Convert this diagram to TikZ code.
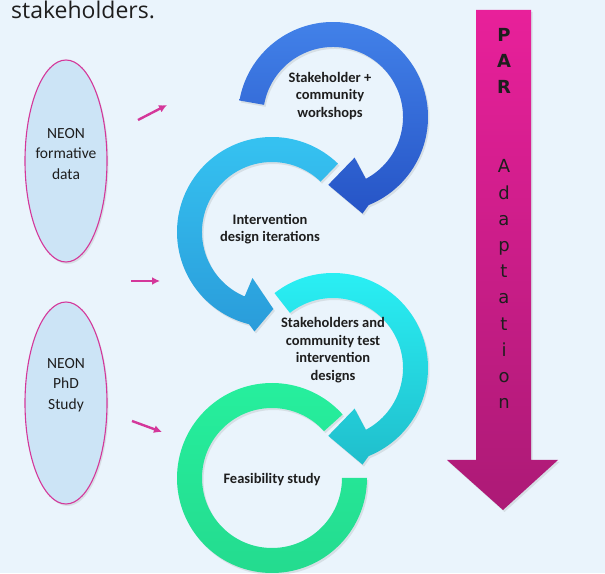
\documentclass[tikz,border=0pt]{standalone}
\usepackage{fontspec}
\setmainfont{Carlito}
\newfontfamily\headfont{Open Sans}
\newfontfamily\parfont{DejaVu Sans}
\usepackage{tikz}
\usepackage{xcolor}
\usetikzlibrary{arrows.meta,shapes.geometric,shadows}

\definecolor{bgblue}{HTML}{EAF4FC}
\definecolor{pinkline}{HTML}{D4379A}
\definecolor{ovalfill}{HTML}{CCE4F6}
\definecolor{ringblueA}{HTML}{4383EA}
\definecolor{ringblueB}{HTML}{2654C6}
\definecolor{ringskyA}{HTML}{36C4F2}
\definecolor{ringskyB}{HTML}{2A9CDA}
\definecolor{ringcyanA}{HTML}{2AF2F6}
\definecolor{ringcyanB}{HTML}{20BECC}
\definecolor{ringgreenA}{HTML}{26F09E}
\definecolor{ringgreenB}{HTML}{24DA8E}
\definecolor{parA}{HTML}{E8209A}
\definecolor{parB}{HTML}{AC1A76}
\definecolor{inkgray}{HTML}{1E1E1E}

\tikzset{
  softshadow/.style={drop shadow={opacity=0.18, shadow xshift=1.5pt, shadow yshift=-2pt}},
  oval/.style={ellipse, draw=pinkline, line width=1.1pt, fill=ovalfill, minimum width=82pt, minimum height=202pt, inner sep=0pt, softshadow},
  ovaltext/.style={align=center, text=inkgray, font=\fontsize{15.5}{20.5}\selectfont},
  ringtext/.style={align=center, text=inkgray, font=\bfseries\fontsize{14.5}{17.5}\selectfont},
  partext/.style={anchor=base, text=inkgray, font=\parfont\fontsize{18}{20}\selectfont},
  feed/.style={draw=pinkline, line width=2.4pt, -{Latex[length=8pt,width=8pt]}},
}

\newcommand\cwring[4]{%
  \begin{scope}[shift={(#1)}]
    \shade[top color=#3, bottom color=#4, softshadow] (#2:95) arc[start angle=#2, end angle=-68, radius=95]
      -- (-73:101) -- (-94:68) -- (-62:46) -- (-62:70) arc[start angle=-62, end angle=#2, radius=70] -- cycle;
  \end{scope}}
\newcommand\ccwring[4]{%
  \begin{scope}[shift={(#1)}]
    \shade[top color=#3, bottom color=#4, softshadow] (#2:95) arc[start angle=#2, end angle=256, radius=95]
      -- (260:101) -- (271:77) -- (247:50) -- (247:70) arc[start angle=247, end angle=#2, radius=70] -- cycle;
  \end{scope}}

\begin{document}
\begin{tikzpicture}[x=1pt, y=1pt]
  \fill[bgblue] (0,0) rectangle (605,573);
  \useasboundingbox (0,0) rectangle (605,573);

  \node[anchor=base west, inner sep=0pt, text=inkgray, font=\headfont\fontsize{23}{28}\selectfont] (tail) at (11,554) {stakeholders.};

  \node[oval] (formative) at (66,412) {};
  \node[ovaltext] (formtext) at (66,419) {NEON\\formative\\data};
  \node[oval] (phd) at (66,170) {};
  \node[ovaltext] (phdtext) at (66,188) {NEON\\PhD\\Study};

  \coordinate (feedAs) at (138,453);
  \coordinate (feedAe) at (167,468);
  \coordinate (feedBs) at (131,292);
  \coordinate (feedBe) at (160,292);
  \coordinate (feedCs) at (132,152);
  \coordinate (feedCe) at (162,141);
  \draw[feed] (feedAs) -- (feedAe);
  \draw[feed] (feedBs) -- (feedBe);
  \draw[feed] (feedCs) -- (feedCe);

  \begin{scope}[shift={(272,95)}]
    \shade[top color=ringgreenA, bottom color=ringgreenB, softshadow] (42:95) arc[start angle=42, end angle=360, radius=95]
      -- (0:70) arc[start angle=360, end angle=42, radius=70] -- cycle;
  \end{scope}
  \cwring{333,205}{128}{ringcyanA}{ringcyanB}
  \ccwring{272,341}{46}{ringskyA}{ringskyB}
  \cwring{333,456}{170}{ringblueA}{ringblueB}

  \node[ringtext] (workshops) at (330,477) {Stakeholder +\\community\\workshops};
  \node[ringtext] (iterations) at (270,344) {Intervention\\design iterations};
  \node[ringtext] (testing) at (333,223) {Stakeholders and\\community test\\intervention\\designs};
  \node[ringtext] (feasibility) at (272,93) {Feasibility study};

  \shade[top color=parA, bottom color=parB, softshadow] (476,563) -- (531,563) -- (531,113) -- (558,113)
    -- (503,63) -- (447,113) -- (476,113) -- cycle;
  \foreach \ch [count=\k] in {P,A,R}
    \node[partext, font=\parfont\bfseries\fontsize{18}{20}\selectfont] (par\k) at (504,{531-26*(\k-1)}) {\ch};
  \foreach \ch [count=\k] in {A,d,a,p,t,a,t,i,o,n}
    \node[partext] (adapt\k) at (504,{400-26.2*(\k-1)}) {\ch};
\end{tikzpicture}
\end{document}
